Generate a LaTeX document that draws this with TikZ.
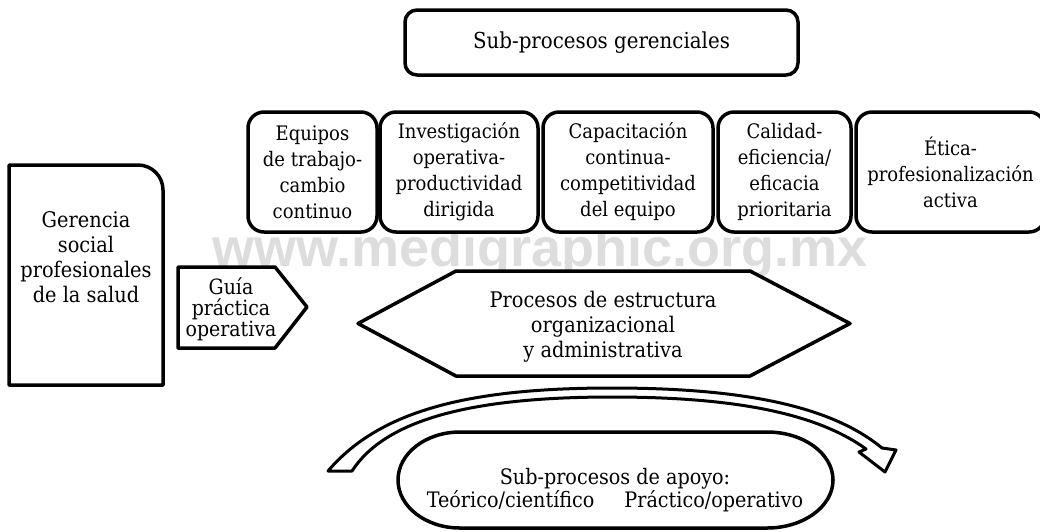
\documentclass[tikz,border=0pt]{standalone}
\usepackage{fontspec}
\usepackage{xcolor}
\setmainfont{DejaVu Serif}[FakeStretch=0.9]
\newfontfamily\wmfont{Liberation Sans}
\definecolor{marcagris}{RGB}{221,221,221}

\begin{document}
\begin{tikzpicture}[x=1pt,y=-1pt,
  caja/.style={draw, line width=3.5pt, rounded corners=16pt, fill=white, align=center, inner sep=0pt},
  fila/.style={caja, minimum height=120pt, font=\fontsize{20}{26}\selectfont},
  forma/.style={draw, line width=3.5pt, line join=round, fill=white},
  txt/.style={align=center, inner sep=0pt, font=\fontsize{21.5}{25}\selectfont}]
\useasboundingbox (0,0) rectangle (1040,531);
\clip (0,0) rectangle (1040,531);

%marca de agua
\node[anchor=base, inner sep=0pt, text=marcagris, font=\wmfont\bfseries\fontsize{54}{54}\selectfont] (marca) at (540,266) {www.medigraphic.org.mx};

%flecha curva
\draw[forma, line width=3pt] (328,471) .. controls (380,410) and (470,388) .. (612,388)
  .. controls (740,388) and (830,405) .. (882,448) -- (896,450) -- (885,472) -- (859,452) -- (866,449)
  .. controls (815,412) and (730,397) .. (612,397) .. controls (470,397) and (385,420) .. (352,471) -- cycle;

%sub-procesos gerenciales
\node[caja, rounded corners=12pt, minimum width=393pt, minimum height=65pt, font=\fontsize{22}{26}\selectfont] (gerenciales) at (601.5,42.5) {Sub-procesos gerenciales};

\node[fila, minimum width=129pt] (equipos) at (312.5,172) {Equipos\\de trabajo-\\cambio\\continuo};
\node[fila, minimum width=158pt] (investigacion) at (459,172) {Investigación\\operativa-\\productividad\\dirigida};
\node[fila, minimum width=170pt] (capacitacion) at (628,172) {Capacitación\\continua-\\competitividad\\del equipo};
\node[fila, minimum width=133pt] (calidad) at (784.5,172) {Calidad-\\eficiencia/\\eficacia\\prioritaria};
\node[fila, minimum width=189pt] (etica) at (950.5,172) {Ética-\\profesionalización\\activa};

%gerencia social
\draw[forma] (9,165) -- (138,165) arc[start angle=-90, end angle=0, radius=25] -- (163,385) -- (9,385) -- cycle;
\node[txt] (gerencia) at (86,257) {Gerencia\\social\\profesionales\\de la salud};

%guia
\draw[forma] (178,267) -- (275,267) -- (307,307) -- (275,348) -- (178,348) -- cycle;
\node[txt, font=\fontsize{21}{21}\selectfont] (guia) at (231,309) {Guía\\práctica\\operativa};

%procesos de estructura
\draw[forma] (358,323.5) -- (456,271) -- (750,271) -- (850,323.5) -- (750,376) -- (456,376) -- cycle;
\node[txt] (estructura) at (603,327) {Procesos de estructura\\organizacional\\y administrativa};

%sub-procesos de apoyo
\draw[forma] (460,432) -- (767,432) arc[start angle=-90, end angle=90, x radius=66, y radius=48]
  -- (460,528) arc[start angle=90, end angle=270, x radius=62, y radius=48] -- cycle;
\node[txt, font=\fontsize{21.3}{23}\selectfont] (apoyo) at (615,490) {Sub-procesos de apoyo:\\Teórico/científico\hspace{30pt}Práctico/operativo};
\end{tikzpicture}
\end{document}
